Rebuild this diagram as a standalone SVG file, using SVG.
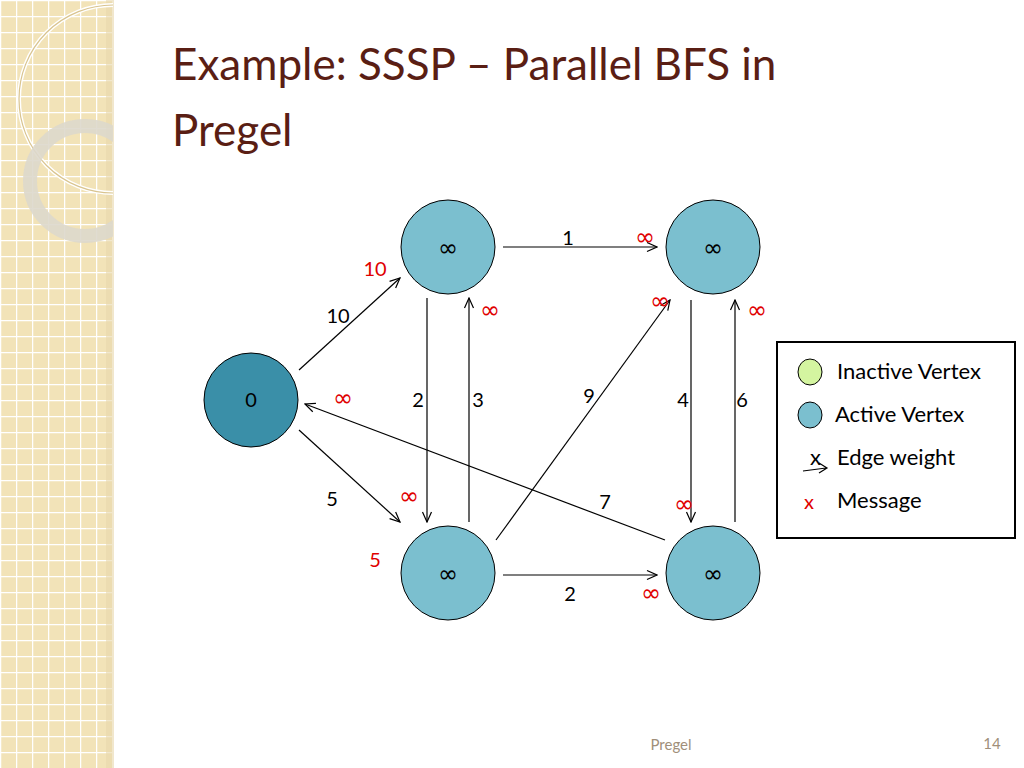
<svg xmlns="http://www.w3.org/2000/svg" width="1024" height="768" viewBox="0 0 1024 768">
<style>
.t{font-family:Lato,"Liberation Sans",sans-serif;fill:#000}
.w{font-family:Lato,"Liberation Sans",sans-serif;font-size:20px;fill:#000;text-anchor:middle}
.m{font-family:"DejaVu Sans",sans-serif;font-size:24px;fill:#e00000;text-anchor:middle}
.i{font-family:"DejaVu Sans",sans-serif;font-size:24px;fill:#000;text-anchor:middle}
.e{stroke:#000;stroke-width:1.2;fill:none;marker-end:url(#a)}
.n{fill:#7bbfcf;stroke:#000;stroke-width:1}
</style>
<defs>
<marker id="a" viewBox="0 0 12 12" refX="11" refY="6" markerWidth="12" markerHeight="12" markerUnits="userSpaceOnUse" orient="auto"><path d="M1,1.5 L11,6 L1,10.5" fill="none" stroke="#000" stroke-width="1.2"/></marker>
<pattern id="g" width="16" height="16" patternUnits="userSpaceOnUse"><rect width="16" height="16" fill="#f2e3b8"/><path d="M0,0.5H16M0.5,0V16" stroke="#fff" stroke-width="1.5"/></pattern>
<clipPath id="c"><rect x="0" y="0" width="113" height="768"/></clipPath>
</defs>
<rect width="1024" height="768" fill="#fff"/>
<g id="decor">
<rect x="0" y="0" width="113" height="768" fill="url(#g)"/>
<rect x="106" y="0" width="8" height="768" fill="#e7d7ac" opacity="0.6"/>
<g clip-path="url(#c)">
<circle cx="113" cy="99" r="94" fill="none" stroke="#fff" stroke-width="4"/>
<circle cx="113" cy="99" r="94" fill="none" stroke="#d9c48f" stroke-width="1.2"/>
<circle cx="85" cy="181" r="55" fill="none" stroke="#ddd8cc" stroke-width="14" opacity="0.9"/>
</g>
</g>
<text class="t" x="172" y="80" font-size="44" style="fill:#5a1e14">Example: SSSP – Parallel BFS in</text>
<text class="t" x="172" y="146" font-size="44" style="fill:#5a1e14">Pregel</text>
<g id="connectors">
<line class="e" x1="299" y1="370" x2="400" y2="278"/>
<line class="e" x1="503" y1="247" x2="657" y2="247"/>
<line class="e" x1="427" y1="298" x2="427" y2="522"/>
<line class="e" x1="469" y1="522" x2="469" y2="298"/>
<line class="e" x1="496" y1="540" x2="670" y2="300"/>
<line class="e" x1="691" y1="300" x2="691" y2="522"/>
<line class="e" x1="735" y1="522" x2="735" y2="300"/>
<line class="e" x1="299" y1="430" x2="400" y2="522"/>
<line class="e" x1="665" y1="540" x2="305" y2="404"/>
<line class="e" x1="503" y1="575" x2="657" y2="575"/>
<text class="w" x="338" y="323">10</text>
<text class="w" x="568" y="245">1</text>
<text class="w" x="418" y="407">2</text>
<text class="w" x="478" y="407">3</text>
<text class="w" x="589" y="403">9</text>
<text class="w" x="683" y="407">4</text>
<text class="w" x="742" y="407">6</text>
<text class="w" x="332" y="506">5</text>
<text class="w" x="605" y="509">7</text>
<text class="w" x="570" y="601">2</text>
<text class="w" x="375" y="276" style="fill:#e00000">10</text>
<text class="w" x="375" y="567" style="fill:#e00000">5</text>
<text class="m" x="645" y="245">∞</text>
<text class="m" x="409" y="504">∞</text>
<text class="m" x="490" y="318">∞</text>
<text class="m" x="660" y="309">∞</text>
<text class="m" x="684" y="512">∞</text>
<text class="m" x="757" y="318">∞</text>
<text class="m" x="343" y="406">∞</text>
<text class="m" x="651" y="601">∞</text>
</g>
<g id="A"><circle cx="251" cy="400" r="47" fill="#3a8fa8" stroke="#000"/><text class="w" x="251" y="407">0</text></g>
<g id="B"><circle class="n" cx="448" cy="247" r="47"/><text class="i" x="448" y="256">∞</text></g>
<g id="C"><circle class="n" cx="713" cy="247" r="47"/><text class="i" x="713" y="256">∞</text></g>
<g id="D"><circle class="n" cx="448" cy="573" r="47"/><text class="i" x="448" y="582">∞</text></g>
<g id="E"><circle class="n" cx="713" cy="573" r="47"/><text class="i" x="713" y="582">∞</text></g>
<g id="legend">
<rect x="777" y="342" width="238" height="196" fill="#fff" stroke="#000" stroke-width="2"/>
<ellipse cx="810" cy="372" rx="12" ry="13" fill="#d4f5a0" stroke="#000"/>
<ellipse cx="810" cy="415" rx="12" ry="13" fill="#7bbfcf" stroke="#000"/>
<text class="t" x="837" y="379" font-size="22">Inactive Vertex</text>
<text class="t" x="835" y="422" font-size="22">Active Vertex</text>
<text class="t" x="810" y="465" font-size="22">x</text>
<path d="M803,471 L826,468 M819,463 L827,468 L819,473" fill="none" stroke="#000" stroke-width="1.2"/>
<text class="t" x="837" y="465" font-size="22">Edge weight</text>
<text class="t" x="804" y="509" font-size="20" style="fill:#e00000">x</text>
<text class="t" x="837" y="508" font-size="22">Message</text>
</g>
<text class="t" x="671" y="750" font-size="15" style="fill:#a08f7a" text-anchor="middle">Pregel</text>
<text class="t" x="992" y="749" font-size="15" style="fill:#a08f7a" text-anchor="middle">14</text>
</svg>
